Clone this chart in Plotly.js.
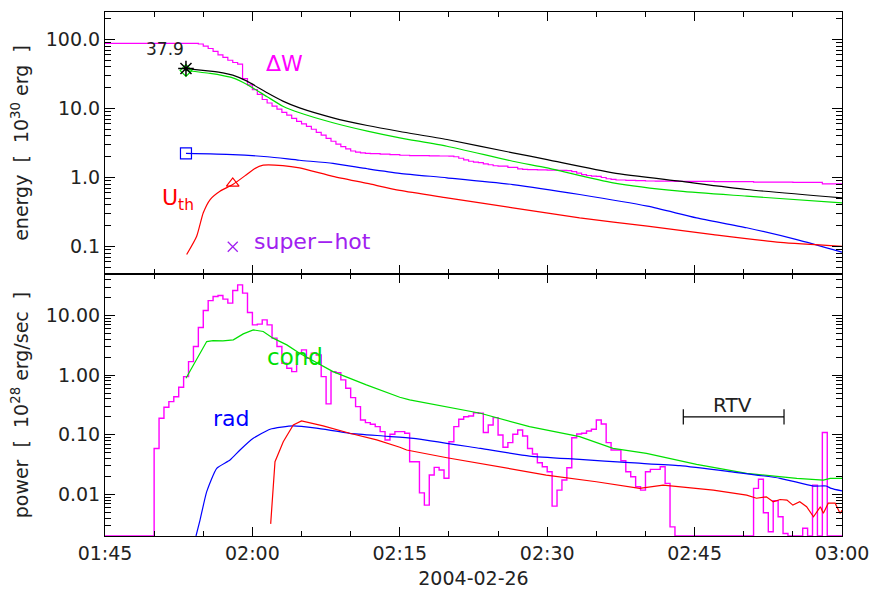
<!DOCTYPE html>
<html>
<head>
<meta charset="utf-8">
<script src="https://cdn.plot.ly/plotly-3.0.1.min.js"></script>
<style>html,body{margin:0;padding:0;background:#fff;}#chart{width:870px;height:590px;}</style>
</head>
<body>
<div id="chart"></div>
<script>
// ---- time helper: minutes after 2004-02-26 01:45 ----
const T0 = Date.UTC(2004, 1, 26, 1, 45, 0);
function tm(m) { return new Date(T0 + m * 60000).toISOString().slice(0, 23).replace('T', ' '); }

// ================= TOP PANEL: energy [1e30 erg] =================
const dwTimes = [0, 9.5, 10.0, 10.5, 11.0, 11.5, 12.0, 12.5, 13.0, 13.5, 14.0, 14.5, 15.0, 15.5, 16.0, 16.5, 17.0, 17.5, 18.0, 18.5, 19.0, 19.5, 20.0, 20.5, 21.0, 21.5, 22.0, 22.5, 23.0, 23.5, 24.0, 24.5, 25.0, 25.5, 26.0, 26.5, 27.0, 28, 29, 30, 31, 32, 33, 34, 35, 35.5, 36, 36.5, 37, 37.5, 38, 38.5, 39, 39.5, 40, 41, 42, 42.5, 43, 44, 45, 46, 47, 47.5, 48, 48.5, 49, 49.5, 50, 50.5, 51, 51.5, 52, 53, 54, 55, 56, 58, 62, 66, 70, 73, 75];
const dwVals  = [87.6, 86, 80, 74, 67, 60, 55, 50, 46.4, 44, 27, 22, 18.8, 16, 13.5, 12, 10.8, 9.8, 8.8, 8.0, 7.2, 6.5, 6.0, 5.5, 5.0, 4.5, 4.1, 3.7, 3.35, 3.05, 2.8, 2.6, 2.42, 2.33, 2.27, 2.24, 2.22, 2.18, 2.14, 2.10, 2.08, 2.07, 2.06, 2.05, 2.04, 2.0, 1.9, 1.8, 1.72, 1.67, 1.64, 1.58, 1.53, 1.48, 1.46, 1.40, 1.33, 1.31, 1.30, 1.29, 1.28, 1.27, 1.26, 1.22, 1.16, 1.10, 1.07, 1.05, 1.04, 1.0, 0.96, 0.94, 0.92, 0.91, 0.90, 0.89, 0.885, 0.88, 0.87, 0.86, 0.85, 0.81, 0.81];

const totTimes = [8.24, 10.7, 12.0, 13.0, 14.45, 16.5, 18.1, 19.8, 23.2, 26.7, 30.0, 34.8, 41.5, 45.0, 51.7, 58.5, 65.3, 75];
const totVals  = [37.9, 34.7, 32.8, 30.4, 24.9, 16.9, 12.8, 10.2, 7.33, 5.67, 4.64, 3.55, 2.28, 1.82, 1.17, 0.884, 0.67, 0.508];

const grnTimes = [8.24, 10.7, 12.0, 13.0, 14.45, 16.5, 18.1, 19.8, 23.2, 26.7, 30.0, 34.8, 41.5, 45.0, 51.7, 58.5, 65.3, 75];
const grnVals  = [35.5, 32.2, 30.0, 27.8, 22.3, 14.8, 10.8, 8.66, 6.21, 4.69, 3.75, 2.84, 1.72, 1.38, 0.838, 0.633, 0.536, 0.43];

const bluTimes = [8.24, 13.0, 16.5, 19.8, 23.2, 26.7, 30, 34.8, 41.5, 48.3, 55.2, 60.2, 65.3, 70.4, 75];
const bluVals  = [2.23, 2.15, 2.0, 1.78, 1.60, 1.34, 1.15, 0.99, 0.79, 0.567, 0.384, 0.26, 0.187, 0.126, 0.083];

const redTimes = [8.31, 9.33, 10.0, 10.7, 11.7, 13.0, 14.4, 15.1, 16.1, 18.1, 19.8, 23.2, 26.7, 30, 34.8, 41.5, 48.3, 55.2, 61.9, 68.7, 75];
const redVals  = [0.0766, 0.141, 0.308, 0.48, 0.633, 0.79, 1.10, 1.31, 1.51, 1.49, 1.38, 1.04, 0.82, 0.65, 0.508, 0.364, 0.26, 0.197, 0.149, 0.115, 0.101];

const peakTime = 8.24, peakTotal = 37.9, peakGreen = 35.5, peakBlue = 2.23;
const triTime = 13.0, triVal = 0.82;
const shTime = 13.0, shVal = 0.099;

// ================= BOTTOM PANEL: power [1e28 erg/s] =================
const powStart = 5.0, powBin = 0.5;
const powVals = [0.059, 0.189, 0.29, 0.36, 0.436, 0.628, 0.948, 1.69, 3.03, 6.31,
  12.2, 17.9, 20.9, 21.8, 18.9, 16.2, 26.4, 32.9, 23.9, 11.3,
  7.0, 7.2, 8.5, 7.0, 4.19, 3.03, 1.59, 1.31, 1.15, 2.34,
  2.66, 1.93, 2.34, 2.19, 0.948, 0.33, 1.15, 1.1, 0.834, 0.604,
  0.42, 0.297, 0.177, 0.16, 0.15, 0.137, 0.113, 0.0818, 0.102, 0.113,
  0.113, 0.106, 0.0353, 0.0353, 0.0106, 0.0066, 0.0211, 0.0284, 0.0256, 0.0186,
  0.0766, 0.137, 0.182, 0.201, 0.207, 0.235, 0.23, 0.109, 0.146, 0.194,
  0.099, 0.0617, 0.0738, 0.102, 0.12, 0.0955, 0.059, 0.0475, 0.034, 0.0291,
  0.024, 0.00635, 0.0118, 0.0174, 0.028, 0.0893, 0.103, 0.106, 0.116, 0.124,
  0.177, 0.152, 0.0738, 0.0556, 0.0556, 0.0367, 0.024, 0.0198, 0.0134, 0.0118,
  0.024, 0.0263, 0.0263, 0.0291, 0.0153, 0.00285, 0.002, 0.002, 0.002, 0.002,
  0.002, 0.002, 0.002, 0.002, 0.002, 0.002, 0.002, 0.002, 0.002, 0.002,
  0.002, 0.002, 0.0126, 0.0179, 0.0049, 0.00236, 0.0078, 0.0042, 0.0022, 0.002,
  0.002, 0.002, 0.0027, 0.002, 0.0143, 0.002, 0.109, 0.002, 0.002, 0.002, 0.002];

const condTimes = [8.24, 9.33, 10.35, 11.0, 12.0, 13.06, 14.07, 15.09, 16.1, 17.1, 18.5, 19.8, 23.2, 26.6, 30.0, 31.0, 38.2, 43.2, 48.3, 51.7, 55.1, 60.2, 65.3, 70.4, 73.1, 73.8, 75];
const condVals  = [0.89, 1.81, 3.67, 3.82, 3.77, 3.92, 4.94, 5.77, 5.41, 4.19, 3.23, 2.34, 1.15, 0.687, 0.427, 0.385, 0.23, 0.137, 0.093, 0.059, 0.0489, 0.0319, 0.0225, 0.0186, 0.0174, 0.0186, 0.0186];

const radTimes = [9.26, 9.67, 10.35, 11.37, 12.72, 13.74, 15.09, 16.8, 19.16, 21.5, 24.9, 28.3, 31.4, 38.2, 43.2, 48.3, 53.4, 58.5, 63.6, 68.7, 72.1, 73.4, 73.9, 75];
const radVals  = [0.002, 0.0037, 0.0111, 0.0274, 0.0377, 0.0556, 0.0873, 0.124, 0.141, 0.129, 0.106, 0.0955, 0.0873, 0.059, 0.044, 0.0387, 0.034, 0.0303, 0.024, 0.0186, 0.0138, 0.0138, 0.0126, 0.0114];

const rpTimes = [16.86, 17.3, 18.14, 19.16, 20.0, 22.2, 24.9, 27.65, 30.0, 30.7, 34.8, 39.9, 44.9, 50.0, 54.4, 56.8, 61.9, 65.3, 66.3, 67.3, 68.0, 68.7, 69.4, 70.0, 70.7, 71.4, 72.1, 72.8, 73.1, 73.6, 74.3, 74.8, 75];
const rpVals  = [0.0032, 0.0353, 0.0766, 0.146, 0.171, 0.141, 0.106, 0.082, 0.0617, 0.0556, 0.0412, 0.0291, 0.0211, 0.0163, 0.0126, 0.0143, 0.0118, 0.0097, 0.0086, 0.0091, 0.0075, 0.0082, 0.008, 0.0066, 0.0075, 0.0062, 0.0042, 0.0062, 0.0048, 0.0071, 0.0071, 0.0048, 0.0054];

const rtvTimes = [58.85, 69.1];
const rtvVal = 0.2;

// ---------------- build traces ----------------
const MAG = '#ff00ff', GRN = '#00e000', BLU = '#0000ff', RED = '#ff0000', PUR = '#a020f0';
const lw = 1.2;
const T = a => a.map(tm);

const powTimes = [0].concat(powVals.map((_, i) => powStart + powBin * i), [75]);
const powY = [0.002].concat(powVals, [powVals[powVals.length - 1]]);

const traces = [
  {x: T(dwTimes), y: dwVals, xaxis: 'x2', yaxis: 'y2', mode: 'lines', line: {color: MAG, width: lw, shape: 'hv'}},
  {x: T(totTimes), y: totVals, xaxis: 'x2', yaxis: 'y2', mode: 'lines', line: {color: 'black', width: lw, shape: 'spline', smoothing: 0.6}},
  {x: T(grnTimes), y: grnVals, xaxis: 'x2', yaxis: 'y2', mode: 'lines', line: {color: GRN, width: lw, shape: 'spline', smoothing: 0.6}},
  {x: T(bluTimes), y: bluVals, xaxis: 'x2', yaxis: 'y2', mode: 'lines', line: {color: BLU, width: lw, shape: 'spline', smoothing: 0.6}},
  {x: T(redTimes), y: redVals, xaxis: 'x2', yaxis: 'y2', mode: 'lines', line: {color: RED, width: lw, shape: 'spline', smoothing: 0.6}},
  {x: [tm(peakTime)], y: [peakGreen], xaxis: 'x2', yaxis: 'y2', mode: 'markers', marker: {symbol: 'diamond-open', size: 9, color: GRN, line: {width: 1.2}}},
  {x: [tm(peakTime)], y: [peakTotal], xaxis: 'x2', yaxis: 'y2', mode: 'markers', marker: {symbol: 'asterisk-open', size: 13, color: 'black', line: {width: 1.5, color: 'black'}}},
  {x: [tm(peakTime)], y: [peakBlue], xaxis: 'x2', yaxis: 'y2', mode: 'markers', marker: {symbol: 'square-open', size: 11, color: BLU, line: {width: 1.2}}},
  {x: [tm(triTime)], y: [triVal], xaxis: 'x2', yaxis: 'y2', mode: 'markers', marker: {symbol: 'triangle-up-open', size: 11, color: RED, line: {width: 1.2}}},
  {x: [tm(shTime)], y: [shVal], xaxis: 'x2', yaxis: 'y2', mode: 'markers', marker: {symbol: 'x-thin-open', size: 10, color: PUR, line: {width: 1.3, color: PUR}}},
  {x: T(powTimes), y: powY, xaxis: 'x', yaxis: 'y', mode: 'lines', line: {color: MAG, width: 1.4, shape: 'hv'}},
  {x: T(condTimes), y: condVals, xaxis: 'x', yaxis: 'y', mode: 'lines', line: {color: GRN, width: lw}},
  {x: T(radTimes), y: radVals, xaxis: 'x', yaxis: 'y', mode: 'lines', line: {color: BLU, width: lw, shape: 'spline', smoothing: 0.5}},
  {x: T(rpTimes), y: rpVals, xaxis: 'x', yaxis: 'y', mode: 'lines', line: {color: RED, width: lw}},
  {x: T(rtvTimes), y: [rtvVal, rtvVal], xaxis: 'x', yaxis: 'y', mode: 'lines+markers', line: {color: 'black', width: 1.2}, marker: {symbol: 'line-ns-open', size: 11, color: 'black', line: {width: 1.2, color: 'black'}}}
];

function minors(d0, d1) { const v = []; for (let d = d0; d <= d1; d++) for (let k = 2; k <= 9; k++) v.push(k * Math.pow(10, d)); return v; }

const FONT = 'DejaVu Sans';
const tickFont = {family: FONT, size: 19, color: '#222'};
const titleFont = {family: FONT, size: 19, color: '#222'};
const yCommon = {
  type: 'log', showgrid: false, zeroline: false, showline: true, linecolor: 'black', linewidth: 1,
  mirror: 'ticks', ticks: 'inside', ticklen: 10, tickcolor: '#000000', tickwidth: 1,
  tickfont: tickFont, tickmode: 'array'
};
const xMinor = {tickmode: 'linear', dtick: 5 * 60000, ticks: 'inside', ticklen: 5, tickcolor: '#000000', showgrid: false};
const xCommon = {
  type: 'date', range: [tm(0), tm(75)], showgrid: false, zeroline: false, showline: true,
  linecolor: 'black', linewidth: 1, mirror: 'ticks', ticks: 'inside', ticklen: 9,
  tickcolor: '#000000', tickwidth: 1, tickmode: 'linear', tick0: tm(0), dtick: 15 * 60000, tickformat: '%H:%M',
  tickfont: tickFont, minor: xMinor
};

const L = v => Math.log10(v);
const annFont = (c, s) => ({family: FONT, size: s || 20, color: c});

const layout = {
  width: 870, height: 590, showlegend: false,
  paper_bgcolor: 'white', plot_bgcolor: 'white',
  margin: {l: 105, r: 28, t: 12, b: 54},
  xaxis: Object.assign({}, xCommon, {anchor: 'y', domain: [0, 1],
    title: {text: '2004-02-26', font: {family: FONT, size: 19, color: '#222'}, standoff: 8}}),
  xaxis2: Object.assign({}, xCommon, {anchor: 'y2', domain: [0, 1], matches: 'x', showticklabels: false}),
  yaxis: Object.assign({}, yCommon, {anchor: 'x', domain: [0, 0.5],
    range: [L(0.002), L(50)], tickvals: [0.01, 0.1, 1, 10], ticktext: ['0.01', '0.10', '1.00', '10.00'],
    minor: {tickmode: 'array', tickvals: minors(-3, 1), ticks: 'inside', ticklen: 6, tickcolor: '#000000', showgrid: false},
    title: {text: 'power  [  10<sup>28</sup> erg/sec  ]', font: titleFont, standoff: 12}}),
  yaxis2: Object.assign({}, yCommon, {anchor: 'x2', domain: [0.5, 1],
    range: [L(0.04), L(250)], tickvals: [0.1, 1, 10, 100], ticktext: ['0.1', '1.0', '10.0', '100.0'],
    minor: {tickmode: 'array', tickvals: minors(-2, 2), ticks: 'inside', ticklen: 6, tickcolor: '#000000', showgrid: false},
    title: {text: 'energy  [  10<sup>30</sup> erg  ]', font: titleFont, standoff: 12}}),
  annotations: [
    {xref: 'x2', yref: 'y2', x: tm(6.1), y: L(71.6), text: '37.9', showarrow: false, font: annFont('#222', 17)},
    {xref: 'x2', yref: 'y2', x: tm(18.3), y: L(44.9), text: 'ΔW', showarrow: false, font: annFont(MAG, 22)},
    {xref: 'x2', yref: 'y2', x: tm(7.4), y: L(0.48), text: 'U<sub>th</sub>', showarrow: false, font: annFont(RED, 22)},
    {xref: 'x2', yref: 'y2', x: tm(15.0), y: L(0.118), xanchor: 'left', text: 'super−hot', showarrow: false, font: annFont(PUR, 22)},
    {xref: 'x', yref: 'y', x: tm(19.3), y: L(2.03), text: 'cond', showarrow: false, font: annFont(GRN, 23)},
    {xref: 'x', yref: 'y', x: tm(12.9), y: L(0.19), text: 'rad', showarrow: false, font: annFont(BLU, 22)},
    {xref: 'x', yref: 'y', x: tm(63.9), y: L(0.317), text: 'RTV', showarrow: false, font: annFont('#222', 20)}
  ]
};

Plotly.newPlot('chart', traces, layout, {displayModeBar: false});
</script>
</body>
</html>
